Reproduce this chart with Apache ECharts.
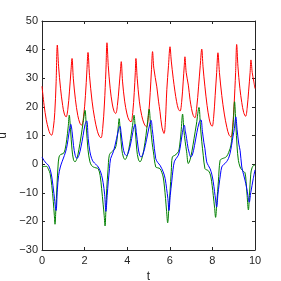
<!DOCTYPE html>
<html>
<head>
<meta charset="utf-8">
<script src="https://cdn.jsdelivr.net/npm/echarts@6/dist/echarts.min.js"></script>
<style>html,body{margin:0;padding:0;background:#fff}#c{width:281px;height:281px}</style>
</head>
<body>
<div id="c"></div>
<script>
const xTicks = [0, 2, 4, 6, 8, 10];
const yTicks = [-30, -20, -10, 0, 10, 20, 30, 40, 50];
const xName = 't';
const yName = 'u';

const redPoints = [
  [0,27.2],[0.1,20.5],[0.2,15.5],[0.3,12.3],[0.38,10.6],[0.45,10.1],[0.53,12.5],[0.6,18],[0.66,28],[0.72,41.6],
  [0.78,34],[0.87,26.5],[0.97,20.5],[1.05,17.5],[1.13,16.5],
  [1.21,19],[1.29,25.5],[1.36,32.5],[1.41,36.9],
  [1.47,30],[1.57,22.5],[1.68,17],[1.78,14.3],[1.86,13.6],
  [1.95,16.5],[2.04,24],[2.11,33],[2.16,39],
  [2.23,31],[2.35,22],[2.47,16],[2.6,11.5],[2.7,9.6],[2.77,9.2],
  [2.85,12.5],[2.93,21],[3.0,32.5],[3.05,42.4],
  [3.11,34.5],[3.2,26.5],[3.3,21],[3.39,18.3],[3.46,17.7],
  [3.54,20.5],[3.62,27],[3.68,32.5],[3.72,35.8],
  [3.78,29],[3.88,22],[3.99,17.5],[4.09,15.3],[4.18,14.8],
  [4.26,18],[4.33,25],[4.38,32],[4.41,36.9],
  [4.47,30],[4.57,22],[4.68,17],[4.8,14],[4.91,13],
  [5.0,17],[5.08,25],[5.14,33],[5.19,39.3],
  [5.25,33.5],[5.39,27],[5.47,22],[5.54,18.3],[5.63,13],[5.73,10.7],
  [5.79,14.5],[5.86,26],[5.94,34.5],[6.01,41],
  [6.07,36],[6.16,30],[6.24,25.5],[6.32,21.8],[6.4,19.3],[6.48,18.5],
  [6.56,22],[6.63,29],[6.68,34.5],[6.71,37.5],
  [6.77,32],[6.87,27.6],[6.95,22.5],[7.02,19.4],[7.1,17],[7.18,16.2],
  [7.26,19.5],[7.35,27],[7.43,34.5],[7.5,40.2],
  [7.56,34],[7.65,27],[7.75,20.5],[7.85,15.8],[7.93,13.7],[7.99,13.2],
  [8.06,16.5],[8.13,24],[8.2,32],[8.26,38.9],
  [8.33,32],[8.44,24],[8.56,17.5],[8.68,12.8],[8.78,10.2],[8.87,9.5],
  [8.95,13],[9.02,21],[9.09,32],[9.14,41.8],
  [9.2,34],[9.29,26.5],[9.38,21.5],[9.47,18],[9.56,16.7],
  [9.63,19.5],[9.7,25.5],[9.77,32],[9.81,36.4],
  [9.87,32],[9.94,29],[10,26.4]
];

const greenPoints = [
  [0,-1],[0.12,-0.8],[0.22,-0.8],[0.3,-1.8],[0.38,-3.3],[0.46,-7.5],[0.53,-13],[0.58,-18],[0.61,-21],
  [0.65,-16],[0.7,-8],[0.75,-1],[0.8,2.5],[0.88,3.4],[1.0,3.7],[1.08,5],[1.16,8.5],[1.23,13],[1.28,17.1],
  [1.34,12],[1.41,5],[1.48,1.5],[1.55,0.8],[1.64,2],[1.73,5],[1.83,9.5],[1.93,14.5],[2.02,18.8],
  [2.08,13],[2.16,5],[2.25,0.8],[2.33,-0.5],[2.41,-1],[2.53,-1.3],[2.64,-1.6],[2.73,-4],[2.8,-8.6],
  [2.87,-14],[2.92,-18],[2.96,-21.6],[3.0,-16],[3.04,-8.6],[3.1,-2],[3.16,3.1],[3.27,4.3],[3.43,5.4],
  [3.52,8.5],[3.58,13],[3.62,15.9],[3.68,11],[3.75,5],[3.82,2.5],[3.9,1.6],[3.98,2.5],[4.07,5],
  [4.16,9],[4.25,13.5],[4.32,17.1],[4.38,12],[4.45,5],[4.52,1.8],[4.6,0.8],[4.68,1.8],[4.78,5],
  [4.88,10],[4.96,15],[5.03,19.2],[5.1,13],[5.17,7.5],[5.23,4.3],[5.34,-1],[5.44,-1.3],[5.54,-1.6],
  [5.63,-3],[5.69,-4.5],[5.75,-8],[5.8,-12],[5.85,-16.5],[5.9,-20.5],[5.95,-16],[6.01,-9.7],
  [6.07,-2.5],[6.12,2.5],[6.24,3.1],[6.4,4.3],[6.47,7],[6.53,11.3],[6.6,17.5],[6.66,12],[6.72,8],
  [6.79,4.3],[6.87,0.2],[6.95,1.5],[7.04,4.5],[7.14,9],[7.25,14],[7.37,19.8],[7.44,13],[7.5,8],
  [7.57,3.1],[7.65,-1.6],[7.73,-2],[7.81,-2.3],[7.88,-3.2],[7.93,-4.5],[7.99,-7.5],[8.04,-10.9],
  [8.1,-15],[8.15,-18.6],[8.21,-13],[8.28,-6.2],[8.36,1.3],[8.46,1.9],[8.57,2.2],[8.67,2.7],
  [8.76,4],[8.83,5.4],[8.9,8],[8.98,14.5],[9.04,21.8],[9.1,14],[9.16,6],[9.22,1.3],[9.3,-1],
  [9.36,-1.8],[9.45,-2.5],[9.53,-3],[9.58,-6],[9.63,-11],[9.69,-16],[9.74,-11],[9.8,-3.5],
  [9.86,-1.3],[9.93,-0.5],[10,-0.3]
];

const bluePoints = [
  [0,2.5],[0.14,0.8],[0.3,-0.4],[0.38,-1.8],[0.46,-4.5],[0.56,-10.3],[0.66,-16.2],
  [0.72,-9],[0.78,-4],[0.86,-1],[0.95,1],[1.05,3],[1.15,5.5],[1.22,8.5],[1.3,12.5],[1.35,13.9],
  [1.41,11.5],[1.48,6.5],[1.56,3],[1.64,2],[1.73,3],[1.83,6],[1.93,10],[2.02,13.8],[2.1,15.1],
  [2.17,8.9],[2.25,4.3],[2.33,2],[2.41,0.8],[2.52,0],[2.64,-1],[2.73,-2.3],[2.8,-3.9],[2.87,-6.5],
  [2.94,-10.5],[3.0,-16.5],[3.06,-11],[3.11,-6.2],[3.17,-1.5],[3.22,1.9],[3.35,4.3],[3.5,8.9],
  [3.6,12.2],[3.66,13.2],[3.72,10.5],[3.8,6],[3.88,3.6],[3.97,3],[4.06,4.2],[4.16,7],[4.26,11],
  [4.33,13.3],[4.37,13.9],[4.43,11],[4.51,6],[4.58,3.2],[4.65,2.5],[4.74,3.5],[4.85,6.5],
  [4.96,10.5],[5.06,14],[5.12,15.3],[5.18,12],[5.23,8.9],[5.34,1.9],[5.44,0.5],[5.54,-0.4],
  [5.69,-2.7],[5.78,-5],[5.85,-8.6],[5.91,-12],[5.96,-16.2],[6.02,-11],[6.09,-6.2],[6.15,-2],
  [6.21,0.8],[6.3,2],[6.4,3.1],[6.48,5.5],[6.56,9.5],[6.63,12.5],[6.68,13.6],[6.73,11.5],
  [6.79,8.9],[6.86,5.5],[6.92,3.7],[6.98,2.5],[7.06,3.2],[7.16,6.5],[7.27,11],[7.38,14.6],
  [7.46,15.5],[7.53,11.5],[7.6,7.5],[7.65,5.4],[7.73,0.8],[7.81,-0.5],[7.89,-1.6],[7.97,-3.5],
  [8.04,-6.2],[8.1,-9.5],[8.15,-12.5],[8.2,-15],[8.26,-10.5],[8.31,-7.4],[8.38,-3.5],[8.44,-1],
  [8.52,-0.2],[8.59,0.2],[8.67,0.9],[8.75,1.9],[8.83,3.8],[8.9,6.6],[8.97,9.8],[9.03,12.4],
  [9.1,16.5],[9.16,12],[9.24,7],[9.3,4.8],[9.38,-1],[9.46,-3.5],[9.53,-5.6],[9.6,-8],[9.67,-11],
  [9.73,-13.3],[9.8,-10],[9.86,-7.5],[9.92,-5],[10,-2]
];

const fontFamily = 'Liberation Sans, Arial, Helvetica, sans-serif';
const axisColor = '#262626';
const fmt = v => String(v).replace('-', '\u2212');

const chart = echarts.init(document.getElementById('c'), null, {renderer: 'canvas'});

const baseAxisLine = {show: true, onZero: false, lineStyle: {color: axisColor, width: 1}};
const baseTick = {show: true, inside: true, length: 3, lineStyle: {color: axisColor, width: 1}};

chart.setOption({
  animation: false,
  backgroundColor: '#ffffff',
  grid: {left: 42, right: 26, top: 21, bottom: 31, containLabel: false, outerBoundsMode: 'none'},
  xAxis: [
    {
      type: 'value', min: xTicks[0], max: xTicks[xTicks.length - 1], interval: xTicks[1] - xTicks[0],
      position: 'bottom',
      name: xName, nameLocation: 'middle', nameGap: 18,
      nameTextStyle: {color: axisColor, fontSize: 12, fontFamily: fontFamily},
      axisLine: baseAxisLine, axisTick: baseTick,
      axisLabel: {color: axisColor, fontSize: 11, fontFamily: fontFamily, margin: 5, formatter: fmt},
      splitLine: {show: false}
    },
    {
      type: 'value', min: xTicks[0], max: xTicks[xTicks.length - 1], interval: xTicks[1] - xTicks[0],
      position: 'top',
      axisLine: baseAxisLine, axisTick: baseTick,
      axisLabel: {show: false}, splitLine: {show: false}
    }
  ],
  yAxis: [
    {
      type: 'value', min: yTicks[0], max: yTicks[yTicks.length - 1], interval: yTicks[1] - yTicks[0],
      position: 'left',
      name: yName, nameLocation: 'middle', nameGap: 31,
      nameTextStyle: {color: axisColor, fontSize: 12, fontFamily: fontFamily},
      axisLine: baseAxisLine, axisTick: baseTick,
      axisLabel: {color: axisColor, fontSize: 11, fontFamily: fontFamily, margin: 4, formatter: fmt},
      splitLine: {show: false}
    },
    {
      type: 'value', min: yTicks[0], max: yTicks[yTicks.length - 1], interval: yTicks[1] - yTicks[0],
      position: 'right',
      axisLine: baseAxisLine, axisTick: baseTick,
      axisLabel: {show: false}, splitLine: {show: false}
    }
  ],
  series: [
    {type: 'line', data: redPoints, smooth: 0.35, showSymbol: false, lineStyle: {color: '#ff0000', width: 1}, itemStyle: {color: '#ff0000'}},
    {type: 'line', data: greenPoints, smooth: 0.35, showSymbol: false, lineStyle: {color: '#008000', width: 1}, itemStyle: {color: '#008000'}},
    {type: 'line', data: bluePoints, smooth: 0.35, showSymbol: false, lineStyle: {color: '#0000ff', width: 1}, itemStyle: {color: '#0000ff'}}
  ]
});
</script>
</body>
</html>
